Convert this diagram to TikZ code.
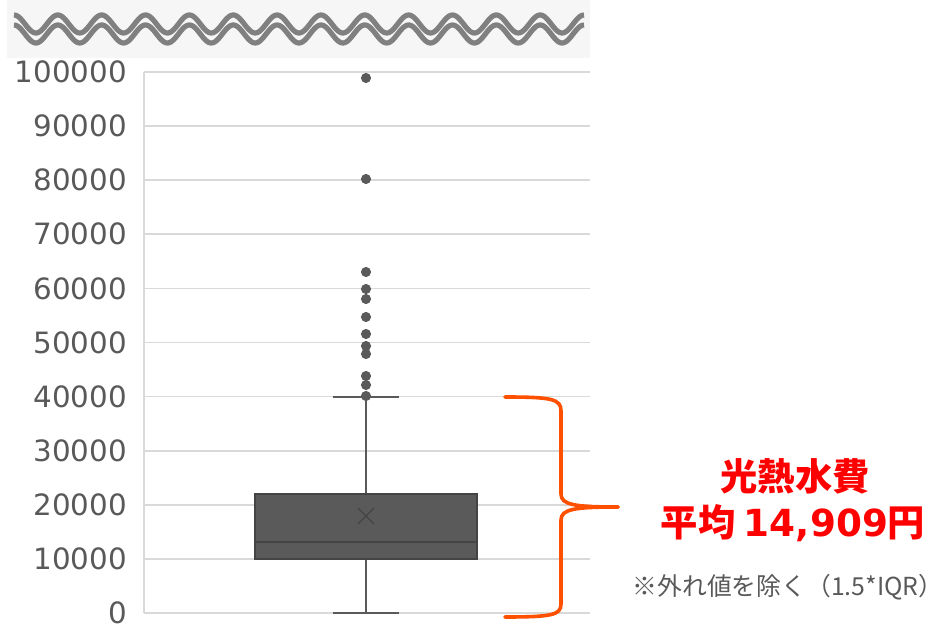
\documentclass[tikz,border=0pt]{standalone}
\usepackage{fontspec}
\setmainfont{DejaVu Sans}
\newfontfamily\jp{Noto Sans CJK JP}
\definecolor{waveg}{HTML}{808080}
\definecolor{bandbg}{HTML}{F6F6F6}
\definecolor{gridc}{HTML}{D9D9D9}
\definecolor{boxc}{HTML}{5A5A5A}
\definecolor{boxedge}{HTML}{444444}
\definecolor{labc}{HTML}{595959}
\definecolor{bracec}{RGB}{255,80,0}
\definecolor{redt}{HTML}{FF0000}
\tikzset{
  gridline/.style={draw=gridc, line width=1.2pt},
  waveline/.style={draw=waveg, line width=3.9pt},
  whisk/.style={draw=boxc, line width=1.5pt},
  outlier/.style={fill=boxc},
  axlab/.style={anchor=east, inner sep=0pt, text=labc, font=\fontsize{22}{26}\selectfont},
  bracepath/.style={draw=bracec, line width=2.7pt, line cap=round},
}
\begin{document}
\begin{tikzpicture}[x=0.75pt, y=-0.75pt]
\useasboundingbox (0,0) rectangle (943,627);
% top band
\fill[bandbg] (7,0) rectangle (590,58);
\draw[waveline, domain=14:584, samples=400, smooth] plot (\x, {24-9*cos(8.2098*(\x-14))});
\draw[waveline, domain=14:584, samples=400, smooth] plot (\x, {34-9*cos(8.2098*(\x-14))});
% grid
\foreach \v/\t in {0/0,1/10000,2/20000,3/30000,4/40000,5/50000,6/60000,7/70000,8/80000,9/90000,10/100000}{
  \draw[gridline] (144,{613-54.1*\v}) -- (590,{613-54.1*\v});
  \node[axlab] (lab\v) at (127,{613-54.1*\v}) {\t};
}
\draw[gridline] (144,72) -- (144,613);
% whiskers
\draw[whisk] (366,397) -- (366,494);
\draw[whisk] (366,559) -- (366,613);
\draw[whisk] (333,397) -- (399,397);
\draw[whisk] (333,613) -- (399,613);
% box
\draw[fill=boxc, draw=boxedge, line width=1.5pt] (255,494) rectangle (477,559);
\draw[draw=boxedge, line width=1.5pt] (255,542) -- (477,542);
\draw[draw=boxedge, line width=1pt] (358,508) -- (374,524) (358,524) -- (374,508);
% outliers
\foreach \yy in {78,179,272,289,299,317,334,346,354,376,385,396}{
  \fill[outlier] (366,\yy) circle [radius=3.8pt];
}
% brace
\draw[bracepath] (505,397) .. controls (552,397) and (561,399) .. (561,411) -- (561,494) .. controls (561,505) and (575,507) .. (618,507);
\draw[bracepath] (618,507) .. controls (575,507) and (561,509) .. (561,520) -- (561,604) .. controls (561,615) and (552,617) .. (505,617);
% texts
\node[inner sep=0pt, text=redt, font=\jp\bfseries\fontsize{28}{32}\selectfont] (t1) at (795,476) {光熱水費};
\node[inner sep=0pt, text=redt, font=\jp\bfseries\fontsize{28}{32}\selectfont] (t2) at (793,523) {平均 {\rmfamily\bfseries 14,909}円};
\node[inner sep=0pt, text=labc, font=\jp\fontsize{18.6}{22}\selectfont] (t3) at (788,587) {※外れ値を除く（1.5*IQR）};
\end{tikzpicture}
\end{document}
